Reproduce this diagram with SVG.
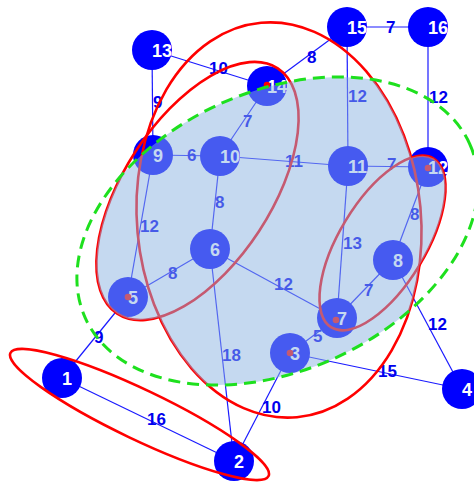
<svg xmlns="http://www.w3.org/2000/svg" width="474" height="482" viewBox="0 0 474 482">
<style>
.e line{stroke:#1a1aff;stroke-width:1.2}
.el{font-family:"Liberation Sans",Arial,sans-serif;font-size:17px;font-weight:bold;fill:#0000ee}
.n circle{fill:#0000ff}
.n text{font-family:"Liberation Sans",Arial,sans-serif;font-size:18px;font-weight:bold;fill:#fff}
.red{fill:none;stroke:#ff0000;stroke-width:2.6}
.dot{fill:#ff0000}
</style>
<defs>
<clipPath id="u">
<ellipse cx="279" cy="220" rx="142" ry="198" transform="rotate(-5.2 279 220)"/>
<ellipse cx="197.5" cy="191" rx="146.6" ry="73.5" transform="rotate(-56.8 197.5 191)"/>
<ellipse cx="382.5" cy="243" rx="98.7" ry="43.1" transform="rotate(-58.8 382.5 243)"/>
</clipPath>
</defs>
<rect width="474" height="482" fill="#fff"/>
<g id="connectors" class="e">
<line x1="62" y1="378" x2="128" y2="297"/>
<line x1="62" y1="378" x2="234" y2="461"/>
<line x1="234" y1="461" x2="210" y2="249"/>
<line x1="234" y1="461" x2="290" y2="353"/>
<line x1="290" y1="353" x2="337" y2="318"/>
<line x1="290" y1="353" x2="462" y2="389"/>
<line x1="462" y1="389" x2="393" y2="260"/>
<line x1="128" y1="297" x2="210" y2="249"/>
<line x1="128" y1="297" x2="153" y2="155"/>
<line x1="210" y1="249" x2="220" y2="156"/>
<line x1="210" y1="249" x2="337" y2="318"/>
<line x1="337" y1="318" x2="393" y2="260"/>
<line x1="337" y1="318" x2="348" y2="166"/>
<line x1="393" y1="260" x2="428" y2="167"/>
<line x1="153" y1="155" x2="220" y2="156"/>
<line x1="220" y1="156" x2="348" y2="166"/>
<line x1="348" y1="166" x2="428" y2="167"/>
<line x1="220" y1="156" x2="267" y2="86"/>
<line x1="153" y1="155" x2="152" y2="50"/>
<line x1="152" y1="50" x2="267" y2="86"/>
<line x1="267" y1="86" x2="347" y2="27"/>
<line x1="347" y1="27" x2="428" y2="27"/>
<line x1="347" y1="27" x2="348" y2="166"/>
<line x1="428" y1="27" x2="428" y2="167"/>
<text class="el" x="94" y="343">9</text>
<text class="el" x="147" y="425">16</text>
<text class="el" x="222" y="361">18</text>
<text class="el" x="262" y="413">10</text>
<text class="el" x="313" y="342">5</text>
<text class="el" x="378" y="377">15</text>
<text class="el" x="428" y="330">12</text>
<text class="el" x="168" y="279">8</text>
<text class="el" x="140" y="232">12</text>
<text class="el" x="215" y="208">8</text>
<text class="el" x="274" y="290">12</text>
<text class="el" x="364" y="296">7</text>
<text class="el" x="343" y="249">13</text>
<text class="el" x="410" y="220">8</text>
<text class="el" x="187" y="161">6</text>
<text class="el" x="285" y="167">11</text>
<text class="el" x="387" y="170">7</text>
<text class="el" x="243" y="127">7</text>
<text class="el" x="153" y="108">9</text>
<text class="el" x="209" y="74">10</text>
<text class="el" x="307" y="63">8</text>
<text class="el" x="386" y="33">7</text>
<text class="el" x="348" y="102">12</text>
<text class="el" x="429" y="103">12</text>
</g>
<g id="n1" class="n"><circle cx="62" cy="378" r="20"/><text x="62" y="385">1</text></g>
<g id="n2" class="n"><circle cx="234" cy="461" r="20"/><text x="234" y="468">2</text></g>
<g id="n3" class="n"><circle cx="290" cy="353" r="20"/><text x="290" y="360">3</text></g>
<g id="n4" class="n"><circle cx="462" cy="389" r="20"/><text x="462" y="396">4</text></g>
<g id="n5" class="n"><circle cx="128" cy="297" r="20"/><text x="128" y="304">5</text></g>
<g id="n6" class="n"><circle cx="210" cy="249" r="20"/><text x="210" y="256">6</text></g>
<g id="n7" class="n"><circle cx="337" cy="318" r="20"/><text x="337" y="325">7</text></g>
<g id="n8" class="n"><circle cx="393" cy="260" r="20"/><text x="393" y="267">8</text></g>
<g id="n9" class="n"><circle cx="153" cy="155" r="20"/><text x="153" y="162">9</text></g>
<g id="n10" class="n"><circle cx="220" cy="156" r="20"/><text x="220" y="163">10</text></g>
<g id="n11" class="n"><circle cx="348" cy="166" r="20"/><text x="348" y="173">11</text></g>
<g id="n12" class="n"><circle cx="428" cy="167" r="20"/><text x="428" y="174">12</text></g>
<g id="n13" class="n"><circle cx="152" cy="50" r="20"/><text x="152" y="57">13</text></g>
<g id="n14" class="n"><circle cx="267" cy="86" r="20"/><text x="267" y="93">14</text></g>
<g id="n15" class="n"><circle cx="347" cy="27" r="20"/><text x="347" y="34">15</text></g>
<g id="n16" class="n"><circle cx="428" cy="27" r="20"/><text x="428" y="34">16</text></g>
<g id="groups">
<ellipse class="red" cx="279" cy="220" rx="142" ry="198" transform="rotate(-5.2 279 220)"/>
<ellipse class="red" cx="197.5" cy="191" rx="146.6" ry="73.5" transform="rotate(-56.8 197.5 191)"/>
<ellipse class="red" cx="382.5" cy="243" rx="98.7" ry="43.1" transform="rotate(-58.8 382.5 243)"/>
<ellipse class="red" cx="139.5" cy="414.5" rx="143" ry="25" transform="rotate(25.5 139.5 414.5)"/>
<circle class="dot" cx="267" cy="85" r="3.3"/>
<circle class="dot" cx="428" cy="168" r="3.3"/>
<circle class="dot" cx="336" cy="320" r="3.3"/>
<circle class="dot" cx="128" cy="297" r="3.3"/>
<circle class="dot" cx="290" cy="353" r="3.3"/>
<g clip-path="url(#u)">
<ellipse cx="277.5" cy="231" rx="211" ry="139.5" transform="rotate(-24.4 277.5 231)" fill="rgb(140,180,225)" fill-opacity="0.5"/>
</g>
<ellipse cx="277.5" cy="231" rx="211" ry="139.5" transform="rotate(-24.4 277.5 231)" fill="none" stroke="#1ee01e" stroke-width="3" stroke-dasharray="12 7"/>
</g>
</svg>
